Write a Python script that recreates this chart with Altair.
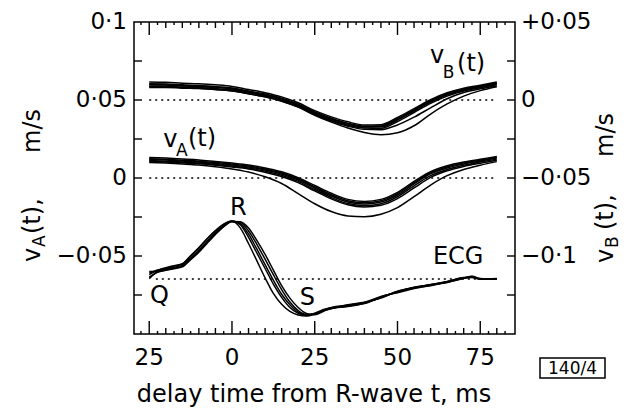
import altair as alt
import pandas as pd

FONT = "DejaVu Sans"

# ---------------- data ----------------
T_V = [-25, -20, -15, -10, -5, 0, 5, 10, 15, 20, 25, 30, 35, 40, 45, 50, 55, 60, 65, 70, 75, 80]

# v_B(t) traces, m/s (right-hand axis)
VB_1 = [.0115, .0113, .0108, .0104, .0097, .0087, .0067, .0047, .0020, -.0018, -.0068, -.0108, -.0140, -.0160, -.0158, -.0112, -.0055, .0002, .0046, .0076, .0095, .0115]
VB_2 = [.0104, .0103, .0097, .0093, .0086, .0077, .0057, .0038, .0011, -.0027, -.0077, -.0117, -.0150, -.0168, -.0166, -.0120, -.0063, -.0005, .0040, .0070, .0090, .0110]
VB_3 = [.0096, .0096, .0090, .0087, .0080, .0071, .0051, .0032, .0006, -.0032, -.0083, -.0122, -.0154, -.0173, -.0173, -.0128, -.0071, -.0013, .0032, .0064, .0083, .0103]
VB_4 = [.0088, .0088, .0083, .0080, .0073, .0064, .0045, .0026, .0000, -.0038, -.0090, -.0130, -.0162, -.0180, -.0182, -.0138, -.0080, -.0022, .0025, .0058, .0078, .0097]
VB_5 = [.0080, .0080, .0076, .0073, .0067, .0058, .0040, .0020, -.0006, -.0044, -.0095, -.0135, -.0168, -.0188, -.0190, -.0160, -.0110, -.0050, .0008, .0048, .0072, .0090]
VB_6 = [.0085, .0084, .0079, .0075, .0068, .0059, .0040, .0020, -.0008, -.0046, -.0098, -.0142, -.0180, -.0208, -.0222, -.0210, -.0165, -.0090, -.0025, .0025, .0060, .0085]
VB_7 = [.0100, .0099, .0093, .0089, .0083, .0074, .0054, .0033, .0006, -.0030, -.0080, -.0120, -.0152, -.0170, -.0168, -.0124, -.0066, -.0008, .0036, .0067, .0086, .0106]

# v_A(t) traces, m/s (left-hand axis)
VA_1 = [.0132, .0128, .0122, .0116, .0106, .0096, .0084, .0064, .0040, .0002, -.0048, -.0098, -.0137, -.0150, -.0137, -.0092, -.0022, .0040, .0078, .0102, .0120, .0138]
VA_2 = [.0124, .0120, .0114, .0108, .0099, .0089, .0077, .0057, .0032, -.0006, -.0057, -.0107, -.0146, -.0159, -.0146, -.0100, -.0030, .0033, .0071, .0096, .0114, .0133]
VA_3 = [.0119, .0115, .0109, .0103, .0093, .0083, .0071, .0051, .0026, -.0013, -.0064, -.0115, -.0154, -.0167, -.0154, -.0109, -.0038, .0026, .0064, .0090, .0109, .0128]
VA_4 = [.0112, .0108, .0102, .0096, .0087, .0077, .0064, .0044, .0018, -.0022, -.0074, -.0125, -.0164, -.0177, -.0165, -.0120, -.0050, .0015, .0055, .0082, .0102, .0121]
VA_5 = [.0106, .0103, .0097, .0091, .0082, .0071, .0058, .0037, .0010, -.0030, -.0083, -.0134, -.0172, -.0186, -.0175, -.0132, -.0064, .0004, .0046, .0074, .0095, .0114]
VA_6 = [.0100, .0096, .0090, .0083, .0072, .0058, .0038, .0008, -.0035, -.0100, -.0165, -.0215, -.0243, -.0248, -.0232, -.0190, -.0120, -.0045, .0015, .0055, .0082, .0105]

# ECG traces (arbitrary units, drawn on the left scale)
T_ECG = [-25, -22.5, -20, -17.5, -15, -12.5, -10, -7.5, -5, -2.5, 0, 2.5, 5, 7.5, 10, 12.5, 15, 17.5, 20, 22.5,
         25, 27.5, 30, 35, 40, 45, 50, 55, 60, 65, 70, 72.5, 75, 80]
ECG_1 = [-.0645, -.0600, -.0585, -.0572, -.0560, -.0512, -.0462, -.0405, -.0352, -.0305, -.0278, -.0320, -.0420, -.0530, -.0640, -.0740, -.0810, -.0855, -.0878, -.0885,
         -.0872, -.0850, -.0836, -.0818, -.0805, -.0765, -.0728, -.0700, -.0684, -.0663, -.0640, -.0632, -.0645, -.0648]
ECG_2 = [-.0620, -.0592, -.0575, -.0562, -.0550, -.0498, -.0447, -.0389, -.0337, -.0296, -.0276, -.0300, -.0380, -.0480, -.0580, -.0680, -.0765, -.0830, -.0868, -.0882,
         -.0870, -.0848, -.0832, -.0822, -.0798, -.0760, -.0735, -.0708, -.0688, -.0670, -.0642, -.0638, -.0648, -.0646]
ECG_3 = [-.0610, -.0590, -.0580, -.0565, -.0552, -.0500, -.0448, -.0390, -.0340, -.0297, -.0275, -.0292, -.0360, -.0455, -.0555, -.0655, -.0745, -.0812, -.0860, -.0878,
         -.0866, -.0844, -.0830, -.0815, -.0800, -.0766, -.0730, -.0702, -.0685, -.0668, -.0640, -.0634, -.0647, -.0647]
ECG_4 = [-.0600, -.0600, -.0592, -.0582, -.0570, -.0524, -.0476, -.0418, -.0362, -.0312, -.0280, -.0285, -.0340, -.0425, -.0520, -.0620, -.0715, -.0795, -.0850, -.0875,
         -.0870, -.0852, -.0838, -.0812, -.0796, -.0770, -.0726, -.0704, -.0690, -.0665, -.0638, -.0636, -.0649, -.0645]
ECG_5 = [-.0635, -.0605, -.0590, -.0578, -.0566, -.0520, -.0470, -.0412, -.0358, -.0310, -.0279, -.0280, -.0320, -.0400, -.0490, -.0590, -.0690, -.0770, -.0830, -.0868,
         -.0876, -.0856, -.0834, -.0824, -.0803, -.0762, -.0732, -.0706, -.0683, -.0666, -.0644, -.0630, -.0646, -.0648]

# the v_B scale is the v_A scale shifted by this amount
VB_SHIFT = 0.05

# dotted zero / baseline lines
BASE_NAME = ["vB zero", "vA zero", "ECG baseline"]
BASE_VAL = [0.0, 0.0, -0.0647]
BASE_IS_VB = [True, False, False]
BASE_T0 = [-25, -25, -23]
BASE_T1 = [80, 80, 80]

# in-plot annotations (t in ms, value on the left scale)
NAME_TEXT = ["v", "(t)", "v", "(t)"]
NAME_T = [59.8, 68.0, -20.8, -13.3]
NAME_V = [0.0740, 0.0689, 0.0196, 0.0202]
SUB_TEXT = ["B", "A"]
SUB_T = [63.7, -16.9]
SUB_V = [0.0644, 0.0138]
MARK_TEXT = ["R", "Q", "S", "ECG"]
MARK_T = [-0.6, -24.8, 20.5, 60.7]
MARK_V = [-0.0234, -0.0804, -0.0811, -0.0554]

# axes
X_DOMAIN = [-29.6, 85.5]
Y_DOMAIN = [-0.1, 0.1]
X_MAJOR = [-25, 0, 25, 50, 75]
X_MAJOR_TEXT = ["25", "0", "25", "50", "75"]
X_MINOR = [-20, -15, -10, -5, 5, 10, 15, 20, 30, 35, 40, 45, 55, 60, 65, 70, 80]
X_SMALL = [-27.5, -22.5, -17.5, -12.5, -7.5, -2.5, 2.5, 7.5, 12.5, 17.5, 22.5, 27.5, 32.5, 37.5,
           42.5, 47.5, 52.5, 57.5, 62.5, 67.5, 72.5, 77.5, 82.5]
Y_TICKS = [-0.075, -0.05, -0.025, 0.0, 0.025, 0.05, 0.075]
YL_VALUES = [0.1, 0.05, 0.0, -0.05]
YL_TEXT = ["0·1", "0·05", "0", "−0·05"]
YR_VALUES = [0.05, 0.0, -0.05, -0.1]           # v_B units
YR_TEXT = ["+0·05", "\u20070", "−0·05", "−0·1"]

X_TITLE = "delay time from R-wave t, ms"
BOX_TEXT = "140/4"

W, H = 381, 312
TICK_LEN_X = [13, 6, 3]     # px: major, minor, small
TICK_LEN_Y = 8              # px

# ---------------- tables ----------------
def traces(named, tgrid, shift=0.0):
    rows = []
    for name, vals in named:
        for t, v in zip(tgrid, vals):
            rows.append({"t": t, "y": v + shift, "trace": name})
    return pd.DataFrame(rows)


df_vb = traces([("B1", VB_1), ("B2", VB_2), ("B3", VB_3), ("B4", VB_4), ("B5", VB_5), ("B6", VB_6), ("B7", VB_7)], T_V, VB_SHIFT)
df_va = traces([("A1", VA_1), ("A2", VA_2), ("A3", VA_3), ("A4", VA_4), ("A5", VA_5), ("A6", VA_6)], T_V)
df_ecg = traces([("E1", ECG_1), ("E2", ECG_2), ("E3", ECG_3), ("E4", ECG_4), ("E5", ECG_5)], T_ECG)

df_base = pd.DataFrame({
    "name": BASE_NAME,
    "y": [v + (VB_SHIFT if b else 0.0) for v, b in zip(BASE_VAL, BASE_IS_VB)],
    "t0": BASE_T0, "t1": BASE_T1,
})
df_name = pd.DataFrame({"text": NAME_TEXT, "t": NAME_T, "y": NAME_V})
df_sub = pd.DataFrame({"text": SUB_TEXT, "t": SUB_T, "y": SUB_V})
df_mark = pd.DataFrame({"text": MARK_TEXT, "t": MARK_T, "y": MARK_V})

df_xlab = pd.DataFrame({"t": X_MAJOR, "text": X_MAJOR_TEXT})
df_ylab = pd.DataFrame({"y": YL_VALUES, "text": YL_TEXT})
df_rlab = pd.DataFrame({"y": [v + VB_SHIFT for v in YR_VALUES], "text": YR_TEXT})

# inward tick segments as two-point lines, in data units so the scales place them
x_per_px = (X_DOMAIN[1] - X_DOMAIN[0]) / W
y_per_px = (Y_DOMAIN[1] - Y_DOMAIN[0]) / H
tick_pts = []
k = 0


def add_tick(x0, y0, x1, y1):
    global k
    tick_pts.append({"id": k, "n": 0, "tx": x0, "ty": y0})
    tick_pts.append({"id": k, "n": 1, "tx": x1, "ty": y1})
    k += 1


for values, length in zip([X_MAJOR, X_MINOR, X_SMALL], TICK_LEN_X):
    for t in values:
        add_tick(t, Y_DOMAIN[0], t, Y_DOMAIN[0] + length * y_per_px)
        add_tick(t, Y_DOMAIN[1], t, Y_DOMAIN[1] - length * y_per_px)
for v in Y_TICKS:
    add_tick(X_DOMAIN[0], v, X_DOMAIN[0] + TICK_LEN_Y * x_per_px, v)
    add_tick(X_DOMAIN[1] - TICK_LEN_Y * x_per_px, v, X_DOMAIN[1], v)
df_ticks = pd.DataFrame(tick_pts)

xs = alt.Scale(domain=X_DOMAIN, nice=False, zero=False)
ys = alt.Scale(domain=Y_DOMAIN, nice=False, zero=False)


def X(field):
    return alt.X(field, scale=xs, axis=None)


def Y(field="y:Q"):
    return alt.Y(field, scale=ys, axis=None)


line_kw = dict(color="black", strokeWidth=1.5, interpolate="monotone")

l_vb = alt.Chart(df_vb).mark_line(**line_kw).encode(x=X("t:Q"), y=Y(), detail="trace:N")
l_va = alt.Chart(df_va).mark_line(**line_kw).encode(x=X("t:Q"), y=Y(), detail="trace:N")
l_ecg = alt.Chart(df_ecg).mark_line(**line_kw).encode(x=X("t:Q"), y=Y(), detail="trace:N")
l_base = alt.Chart(df_base).mark_rule(color="black", strokeWidth=1.6, strokeDash=[2, 4]).encode(
    x=X("t0:Q"), x2="t1:Q", y=Y())
l_ticks = alt.Chart(df_ticks).mark_line(color="black", strokeWidth=1.4).encode(
    x=X("tx:Q"), y=Y("ty:Q"), detail="id:N", order="n:Q")

text_kw = dict(font=FONT, align="left", baseline="alphabetic", color="black")
l_name = alt.Chart(df_name).mark_text(fontSize=24, **text_kw).encode(x=X("t:Q"), y=Y(), text="text:N")
l_sub = alt.Chart(df_sub).mark_text(fontSize=17, **text_kw).encode(x=X("t:Q"), y=Y(), text="text:N")
l_mark = alt.Chart(df_mark).mark_text(fontSize=24, **text_kw).encode(x=X("t:Q"), y=Y(), text="text:N")

# tick labels, placed by the scales along their axis
lab_kw = dict(font=FONT, fontSize=23, color="black")
l_xlab = alt.Chart(df_xlab).mark_text(align="center", baseline="top", **lab_kw).encode(
    x=X("t:Q"), y=alt.value(H + 13), text="text:N")
l_ylab = alt.Chart(df_ylab).mark_text(align="right", baseline="middle", **lab_kw).encode(
    y=Y(), x=alt.value(-7), text="text:N")
l_rlab = alt.Chart(df_rlab).mark_text(align="left", baseline="middle", **lab_kw).encode(
    y=Y(), x=alt.value(W + 6), text="text:N")


def piece(text, x, y, size, angle=270, align="left", baseline="alphabetic"):
    return alt.Chart(pd.DataFrame({"text": [text]})).mark_text(
        font=FONT, fontSize=size, angle=angle, align=align, baseline=baseline, color="black"
    ).encode(x=alt.value(x), y=alt.value(y), text="text:N")


# axis titles (y titles rotated, with subscripts)
titles = [
    piece(X_TITLE, 180, 380, 24, angle=0, align="center"),
    piece("v", -94, 240, 24), piece("A", -89, 225, 17), piece("(t),", -94, 212, 24), piece("m/s", -94, 131, 24),
    piece("v", 479, 241, 24), piece("B", 484, 226, 17), piece("(t),", 479, 208, 24), piece("m/s", 479, 135, 24),
]

box = alt.Chart(pd.DataFrame({"text": [BOX_TEXT]})).mark_rect(
    fill="white", stroke="black", strokeWidth=1.5
).encode(x=alt.value(406), x2=alt.value(471), y=alt.value(336), y2=alt.value(356))
box_text = piece(BOX_TEXT, 438.5, 347, 17, angle=0, align="center", baseline="middle")

chart = alt.layer(
    l_vb, l_va, l_ecg, l_base, l_name, l_sub, l_mark, l_xlab, l_ylab, l_rlab, *titles, box, box_text, l_ticks
).properties(
    width=W, height=H,
    padding={"left": 134, "top": 22, "right": 119, "bottom": 74},
    autosize=alt.AutoSizeParams(type="none"),
    background="white",
).configure_view(stroke="black", strokeWidth=1.5)

chart.save("out.html", embed_options={"renderer": "svg", "actions": False})
